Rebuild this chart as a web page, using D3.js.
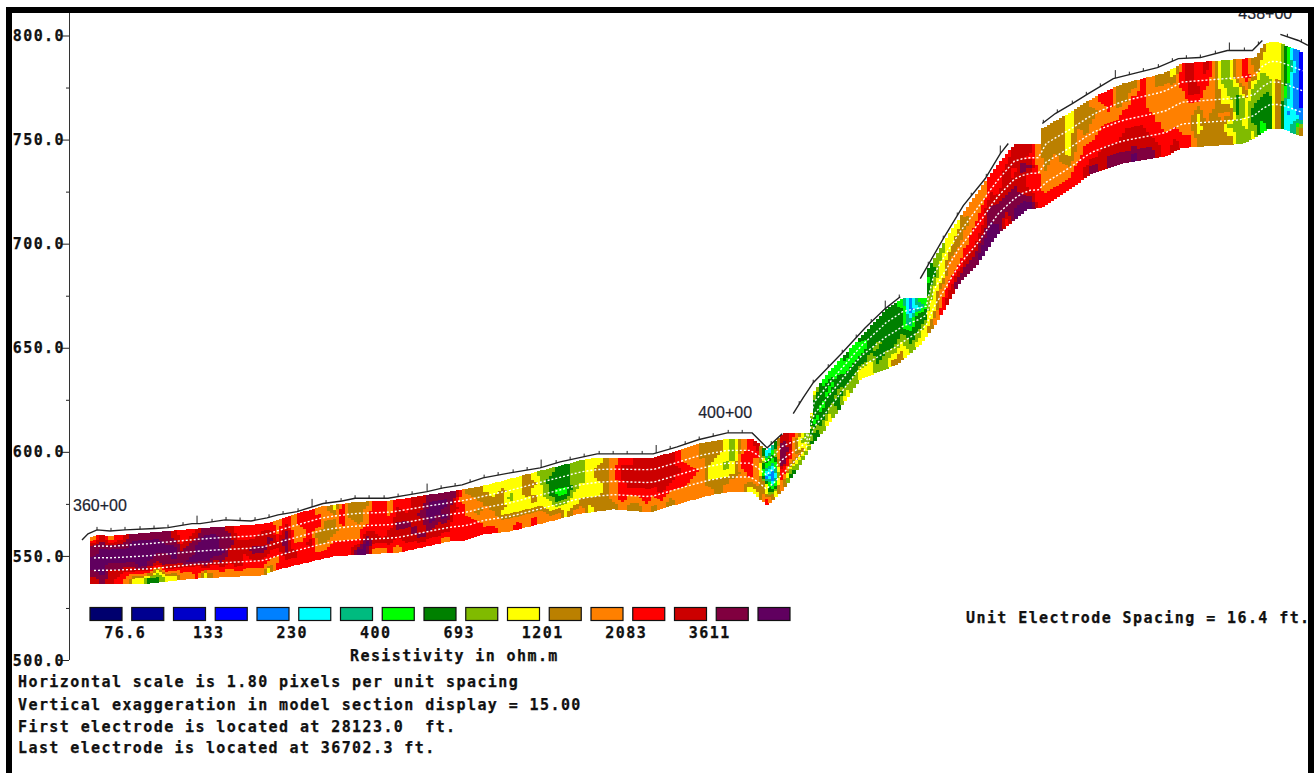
<!DOCTYPE html>
<html>
<head>
<meta charset="utf-8">
<script src="https://cdn.jsdelivr.net/npm/d3@7"></script>
<style>
  html, body { margin: 0; padding: 0; background: #fff; overflow: hidden; }
  .mono { font-family: "DejaVu Sans Mono", monospace; font-weight: bold; font-size: 15px; letter-spacing: 1.41px; fill: #111; stroke: #111; stroke-width: 0.25px; }
  .station { font-family: "Liberation Sans", Arial, sans-serif; font-size: 16px; fill: #1c2430; stroke: #1c2430; stroke-width: 0.2px; }
</style>
</head>
<body>
<div id="chart"></div>
<script>
// ground surface: distance from first electrode (ft), elevation (ft), null = break in the line
const surfaceDist = [0,42,105,196,301,511,602,770,826,1001,1183,1295,1372,1505,1687,1820,1911,2142,2282,2415,2527,2660,2807,2996,3206,3346,3507,3605,3885,3997,4165,4312,4515,4690,4795,4900,4940,
  4977,5047,5117,5320,5481,5621,5726,5800,
  5866,6027,6167,6321,6426,6482,6600,
  6720,6811,6930,7042,7217,7336,7525,7672,7826,8015,8190,8260,8320,
  8386,8512,8579];
const surfaceElev = [557.7,560.6,562.5,562,562.5,563.2,563.6,565.5,565.5,567.3,566.8,568.3,569.7,571.3,575.2,576.4,577.7,577.7,579.3,580.9,582.7,584.1,587.5,589.9,592.3,595.2,597.6,599,599,599,602.4,605.8,609.1,609.1,601.9,608.7,null,
  618.3,626,633.2,647.6,659.6,668.8,674.5,null,
  683.2,702.4,718.3,731.3,743.3,748.1,null,
  757.7,762.5,767.3,772.1,779.3,781.3,784.6,788.9,789.4,792.8,792.8,797.6,null,
  800.5,797.6,795.2];

// electrode positions (ft)
const electrodes = [105,203,301,406,504,602,707,805,910,1008,1106,1211,1309,1407,1512,1610,1708,1813,1911,2009,2114,2212,2310,2415,2513,2611,2716,2814,2912,3017,3115,3213,3318,3416,3514,3619,3717,3815,3920,4018,4116,4221,4319,4417,4522,4620,4823,
  5019,5117,5222,5320,5418,5523,5621,5719,5922,6027,6125,6223,6328,6426,6727,6825,6930,7028,7126,7231,7329,7427,7532,7630,7728,7826,7931,8029,8134,8232,8435,8533];
const tallElectrodes = [805,1610,2415,3213,4018,5621,6426,7231,8029];

// model section outline
const topDist = [56,105,196,511,931,1190,1302,1386,1666,1820,1911,2142,2282,2415,2527,2807,2996,3206,3346,3507,3605,3997,4165,4312,4515,4690,4795,4907,5103,5110,5236,5446,5635,5747,5908,5915,5985,6097,6237,6377,6531,6713,6720,6916,7105,7287,7567,7700,8211,8281,8351,8512,8540];
const topElev = [559.1,560.1,559.6,561.5,563.9,564.9,565.9,567.8,573.6,575,576,576.4,577.9,579.3,580.3,583.7,587,590.9,593.3,596.2,597.1,597.1,600.5,603.8,606.3,606.3,600.5,609.1,609.1,627.9,638.9,654.8,668.8,674,674,687,695.2,707.7,721.6,735.1,748.1,748.1,755.3,763,771.2,776.9,781.7,786.5,789.4,796.2,797.1,792.8,791.8];
const bottomDist = [56,476,805,1267,1407,1757,2226,2576,2695,2807,2996,3227,3465,3717,3976,4165,4396,4515,4690,4795,4907,5026,5110,5187,5446,5705,5866,5985,6146,6265,6405,6615,6706,6895,7056,7266,7595,7686,8106,8197,8302,8407,8526,8540];
const bottomElev = [536.5,537,539.4,540.9,544.2,550,551.9,557.2,557.7,560.6,562,565.9,570.2,572.6,571.2,575,579.3,580.8,580.8,574.5,582.2,594.2,604.3,610.1,635.1,642.3,651.9,663,682.2,690.4,704.8,716.8,717.3,725.5,733.7,738.5,742.3,746.2,748.1,750.5,755.3,755.3,751.9,751.9];

// resistivity class per model column, one letter per layer, top to bottom
const modelColumns = [
  "OmmppmR","Rmppppm","OmppmRR","rmppmRr","RmppmrO","mpppmry","mppppry","mpppmrG","mppmRyG","mmpmmry",
  "Rmppmry","rrRmmrO","rRmmprO","Rmppprr","mppppRy","mpppmrO","mmmpmRO","RmmRRrO","rrRRRRO","rrRRrrO",
  "rrRmRrO","rRRmRrO","rRmRrOy","OOrRrOr","rRmmmRr","OOOOrRr","rrOOrrr","rrrrRrr","OrrBBOr","OOBBBOr",
  "yOBBOrr","rrrOOrr","BBOOOrr","BBBOOrp","BOOrRpp","rrrrRRO","rrrrrRO","OOrrRRr","rRRmRrO","rrRmRRr",
  "RRRRmRr","RRmRRmr","mpppmRr","mppmRRr","mpmpRRO","mRRrrrr","OOrrrrr","BOOOrrr","BBOBOrr","yBBOOOr",
  "yyBBOOr","yBBByOO","yyoyyOO","yyyyyOr","BBByyOO","yByByOr","ooyyyOO","oGGGyyO","GGGgGyO","GGGgGyy",
  "ooooyyO","oooyyBO","yyyyyBy","yBByyBB","BBBBBBB","OOOOOOB","rRRrrrO","rRRRrOB","RRRRrOB","RRRRrrO",
  "RRRRrOB","RRRRRrO","RRRRrOB","rrRrrOO","OOrrrOO","OOOrOOO","BBOOOOO","BBByyBO","BByyyBB","yyyoyBO",
  "oooyyOO","OOrrOOO","rrrrrOy","RrOOOOy","cGtsyyr","tGtsbty","mmppRrO","rRRrOyG","OyyyOyo","oooyyyo",
  "yGGGgoG","gGGgGGo","gGgGGoy","ggGGoGG","GggGGoy","gggGGoo","GggGGyy","GGGGoyy","GGGoGGo","GGGGGoo",
  "GGGGGoB","gGGGoyB","ssctGGo","gcGGGoy","ggGGoyy","oGoyyyO","oyyyOOr","yyBOOrR","yBBOOrm","OBOOrRm",
  "OOOrrRm","OOrrRmp","rrRmmpp","rrrRmmp","rRRRmmr","RRrRmmp","RRmRRmp","RrmrrRp","OOOrrrr","BBBBOOr",
  "BBBOOOr","BBBBOOr","yyyyBOr","BBOOOrr","BBBOrrR","OBOOrrm","rOOrrRR","rrOrrRm","BBOrrRm","BBrrRRm",
  "BrrrRRp","rrrrRRm","OOOrrRm","BOOOrrR","BOOOOrr","yOOOOrR","rrOOOOr","RRROOOr","rrROyyB","RrOOOBB",
  "OOOOBBB","ooyyOBB","oooyOoB","OOoGGoo","rrOyyyo","BOooGGy","ByooGGg","yyyoGGG","yyyOOOO","GGGgtsc",
  "scsssct","bbbbbsO"
];
const columnWidth = 56; // ft
const depthLines = [0.22, 0.46, 0.72]; // fraction of the section depth

// colour legend
const classCodes = ["n","u","d","b","s","c","t","g","G","o","y","B","O","r","R","m","p"];
const classColours = ["#00006e","#000090","#0000c8","#0000ff","#0080ff","#00ffff","#00bb7f","#00ff00","#008000","#80bb00","#ffff00","#bb8000","#ff8000","#ff0000","#cc0000","#80003f","#60005f"];
const legendValues = ["76.6","133","230","400","693","1201","2083","3611"];

const yTicks = [500,525,550,575,600,625,650,675,700,725,750,775,800];
const noteLines = [
  "Horizontal scale is 1.80 pixels per unit spacing",
  "Vertical exaggeration in model section display = 15.00",
  "First electrode is located at 28123.0  ft.",
  "Last electrode is located at 36702.3 ft."
];
const stationLabels = ["360+00","400+00","438+00"];
const stationDist = [-63,4312,8092];
const stationElev = [571.5,616.3,808];

const width = 1314, height = 773;
const svg = d3.select("#chart").append("svg")
  .attr("width", width).attr("height", height)
  .attr("viewBox", [0, 0, width, height]);

const x = d3.scaleLinear().domain([0, 8579.3]).range([82, 1308]);
const y = d3.scaleLinear().domain([500, 800]).range([660, 35.5]);
const topAt = d3.scaleLinear(topDist, topElev);
const bottomAt = d3.scaleLinear(bottomDist, bottomElev);
const sectionStart = topDist[0], sectionEnd = 8540;

// y axis
const yAxis = d3.axisLeft(y)
  .tickValues(yTicks)
  .tickFormat(d => d % 50 === 0 ? d3.format(".1f")(d) : "")
  .tickSizeOuter(0);
const axisG = svg.append("g").attr("transform", "translate(69,0)").call(yAxis);
axisG.select(".domain").attr("d", `M0.5,13V${y(500)}`).attr("stroke", "#333");
axisG.selectAll(".tick line")
  .attr("stroke", "#222")
  .attr("x2", d => d % 50 === 0 ? -7 : -3);
axisG.selectAll(".tick text")
  .attr("class", "mono")
  .attr("x", -4)
  .attr("dy", "0.34em");
axisG.attr("font-family", null).attr("font-size", null);

// model cells, the class grid shaded in bands the way the inversion program contours it
const layers = modelColumns[0].length;
const classGrid = modelColumns.map(codes => Array.from(codes, c => classCodes.indexOf(c)));
const classAt = (u, v) => {
  const cu = Math.max(0, Math.min(classGrid.length - 1, u));
  const cv = Math.max(0, Math.min(layers - 1, v));
  const u0 = Math.floor(cu), v0 = Math.floor(cv);
  const u1 = Math.min(classGrid.length - 1, u0 + 1), v1 = Math.min(layers - 1, v0 + 1);
  const fu = cu - u0, fv = cv - v0;
  const left = classGrid[u0][v0] * (1 - fv) + classGrid[u0][v1] * fv;
  const right = classGrid[u1][v0] * (1 - fv) + classGrid[u1][v1] * fv;
  return Math.round(left * (1 - fu) + right * fu);
};
const stripWidth = 21, rows = 21; // ft, rows per strip
const cells = [];
d3.range(sectionStart, sectionEnd, stripWidth).forEach(d0 => {
  const d1 = Math.min(d0 + stripWidth, sectionEnd);
  const mid = (d0 + d1) / 2;
  const t = topAt(mid), b = bottomAt(mid);
  d3.range(rows).forEach(j => {
    const v = (j + 0.5) / rows * layers - 0.5;
    const u = (mid - sectionStart) / columnWidth - 0.5;
    cells.push({
      d0, d1,
      k: classAt(u, v),
      e0: t + (b - t) * j / rows,
      e1: t + (b - t) * (j + 1) / rows
    });
  });
});
svg.append("g").attr("shape-rendering", "crispEdges")
  .selectAll("rect").data(cells).join("rect")
  .attr("x", d => x(d.d0))
  .attr("width", d => x(d.d1) - x(d.d0) + 0.3)
  .attr("y", d => y(d.e0))
  .attr("height", d => y(d.e1) - y(d.e0) + 0.5)
  .attr("fill", d => classColours[d.k]);

// white lines through the section
const lineDists = modelColumns.map((c, i) => sectionStart + (i + 0.5) * columnWidth);
svg.append("g").selectAll("path").data(depthLines).join("path")
  .attr("fill", "none")
  .attr("stroke", "#fff")
  .attr("stroke-width", 1.4)
  .attr("stroke-dasharray", "2,2")
  .attr("d", f => d3.line()
    .x(d => x(d))
    .y(d => y(topAt(d) + (bottomAt(d) - topAt(d)) * f))(lineDists));

// ground surface and electrodes
const surface = surfaceDist.map((d, i) => ({ d, e: surfaceElev[i] }));
svg.append("path")
  .datum(surface)
  .attr("fill", "none")
  .attr("stroke", "#222")
  .attr("stroke-width", 1.4)
  .attr("d", d3.line().defined(p => p.e !== null).x(p => x(p.d)).y(p => y(p.e)));

const solid = surface.filter(p => p.e !== null);
const surfaceAt = d3.scaleLinear(solid.map(p => p.d), solid.map(p => p.e));
svg.append("g").selectAll("line").data(electrodes).join("line")
  .attr("x1", d => x(d)).attr("x2", d => x(d))
  .attr("y1", d => y(surfaceAt(d)))
  .attr("y2", d => y(surfaceAt(d)) - (tallElectrodes.includes(d) ? 8 : 3))
  .attr("stroke", "#222")
  .attr("stroke-width", 1);

// station labels
svg.append("g").selectAll("text").data(stationLabels).join("text")
  .attr("class", "station")
  .attr("x", (d, i) => x(stationDist[i]))
  .attr("y", (d, i) => y(stationElev[i]))
  .text(d => d);

// legend
const legend = d3.scaleLinear().domain([0, 1]).range([90, 131.75]);
svg.append("g").selectAll("rect").data(classColours).join("rect")
  .attr("x", (d, i) => legend(i))
  .attr("y", 607.5)
  .attr("width", 32)
  .attr("height", 13)
  .attr("fill", d => d)
  .attr("stroke", "#111")
  .attr("stroke-width", 1.2);
svg.append("g").selectAll("text").data(legendValues).join("text")
  .attr("class", "mono")
  .attr("text-anchor", "middle")
  .attr("x", (d, i) => legend(2 * i + 1) - 6.5)
  .attr("y", 638)
  .text(d => d);
svg.append("text").attr("class", "mono").attr("x", 350).attr("y", 661).text("Resistivity in ohm.m");
svg.append("text").attr("class", "mono").attr("x", 966).attr("y", 623).text("Unit Electrode Spacing = 16.4 ft.");

// notes under the chart
const noteY = [687, 710, 732, 753];
svg.append("g").selectAll("text").data(noteLines).join("text")
  .attr("class", "mono")
  .attr("x", 18)
  .attr("y", (d, i) => noteY[i])
  .style("white-space", "pre")
  .text(d => d);

// black window frame
const frame = svg.append("g").attr("fill", "#000");
frame.append("rect").attr("x", 6).attr("y", 7).attr("width", 1308).attr("height", 6);
frame.append("rect").attr("x", 6).attr("y", 7).attr("width", 6).attr("height", 766);
frame.append("rect").attr("x", 1308).attr("y", 7).attr("width", 6).attr("height", 766);
</script>
</body>
</html>
